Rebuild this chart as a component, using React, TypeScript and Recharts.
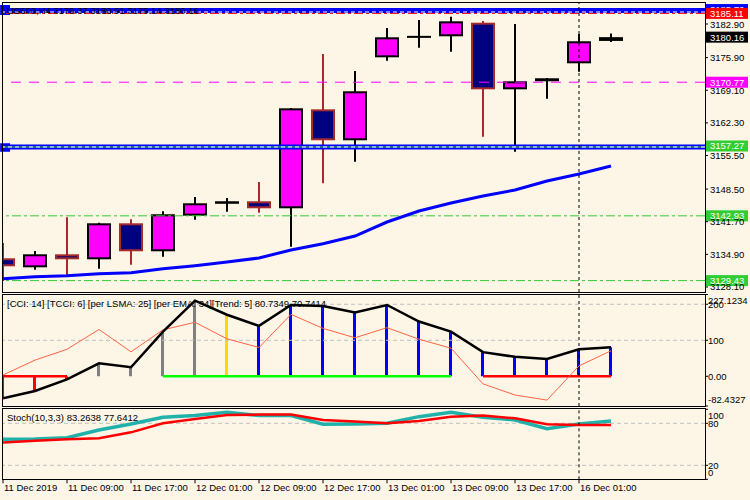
import React from "react";
import {
  ComposedChart,
  Bar,
  Line,
  XAxis,
  YAxis,
  ReferenceLine,
  ReferenceArea,
  Cell
} from "recharts";

// US500 H4 candles
const times = [
  "11 Dec 2019", "11 Dec 05:00", "11 Dec 09:00", "11 Dec 13:00", "11 Dec 17:00",
  "11 Dec 21:00", "12 Dec 01:00", "12 Dec 05:00", "12 Dec 09:00", "12 Dec 13:00",
  "12 Dec 17:00", "12 Dec 21:00", "13 Dec 01:00", "13 Dec 05:00", "13 Dec 09:00",
  "13 Dec 13:00", "13 Dec 17:00", "13 Dec 21:00", "16 Dec 01:00", "16 Dec 05:00"
];
const open = [
  3134.08, 3132.2, 3134.91, 3133.87, 3141.37, 3135.54, 3142.96, 3145.54, 3145.96, 3144.5,
  3165.12, 3158.67, 3175.96, 3180.22, 3180.34, 3183.17, 3169.29, 3170.96, 3174.71, 3179.37
];
const high = [
  3137.26, 3135.6, 3142.62, 3141.5, 3142.2, 3143.87, 3146.85, 3146.64, 3149.98, 3165.4,
  3176.65, 3173.11, 3182.07, 3183.73, 3184.42, 3183.53, 3182.9, 3171.65, 3180.82, 3180.91
];
const low = [
  3129.35, 3131.7, 3130.39, 3131.91, 3132.74, 3134.41, 3142.12, 3143.79, 3143.58, 3136.5,
  3149.7, 3154.21, 3175.25, 3177.96, 3177.13, 3159.42, 3156.29, 3167.33, 3172.96, 3179.14
];
const close = [
  3132.41, 3134.91, 3133.87, 3141.37, 3135.54, 3143.25, 3145.54, 3145.96, 3144.5, 3165.33,
  3158.67, 3168.88, 3180.13, 3180.22, 3183.46, 3169.29, 3170.96, 3171.59, 3179.3, 3180.16
];
const ma = [
  3129.83, 3130.24, 3130.45, 3130.87, 3131.08, 3131.91, 3132.54, 3133.31, 3134.14, 3135.81,
  3137.12, 3138.72, 3141.64, 3143.93, 3145.6, 3147.06, 3148.31, 3150.18, 3151.64, 3153.31
];

// CCI panel
const cci = [-61, -40.8, -8.4, 36, 25, 124, 210, 171, 140, 198, 195, 177, 198, 152, 124, 67, 54, 48, 75, 80.7349];
const tcci = [3.6, 45, 75, 130, 68, 129, 150, 104, 80, 172, 133, 107, 135, 103, 78, -21, -52, -66, 29, 70.7414];
const cciState = ["dn", "dn", "dn", "nt", "nt", "nt", "nt", "tr", "up", "up", "up", "up", "up", "up", "up", "up", "up", "up", "up", "up"];
const trend = ["dn", "dn", "dn", "", "", "up", "up", "up", "up", "up", "up", "up", "up", "up", "up", "dn", "dn", "dn", "dn", "dn"];

// Stochastic panel
const stochMain = [57.1, 57.5, 59.5, 70.5, 79, 88.6, 91, 95.7, 91, 91, 78.6, 79, 80, 89.5, 95.7, 88.6, 84.8, 72.4, 79, 83.2638];
const stochSignal = [52.4, 55.2, 57.1, 58.6, 67.1, 80, 86.2, 91.9, 92.4, 92.4, 84.8, 82.4, 80, 83.3, 89.5, 91, 87.1, 78.6, 77.6, 77.6412];

const priceTicks = [3128.1, 3134.9, 3141.7, 3148.5, 3155.5, 3162.3, 3169.1, 3175.9, 3182.9];
const cciTicks = [-82.4327, 0, 100, 200, 227.1234];
const stochTicks = [0, 20, 80, 100];
const timeTicks = [0, 2, 4, 6, 8, 10, 12, 14, 16, 18];

const bid = 3180.16;
const stateColor: Record<string, string> = { dn: "#ff0000", nt: "#808080", tr: "#ffd700", up: "#0000ff" };

const FONT = "'Liberation Sans', Arial, sans-serif";
const BG = "#fdf5e6";
const X_MAX = 702 / 32;

const rows = times.map((t, i) => ({
  i,
  t,
  range: [low[i], high[i]],
  o: open[i],
  h: high[i],
  l: low[i],
  c: close[i],
  ma: ma[i],
  cci: cci[i],
  tcci: tcci[i],
  dnBase: trend[i] === "dn" ? 0 : null,
  upBase: trend[i] === "up" ? 0 : null,
  k: stochMain[i],
  d: stochSignal[i]
}));

const Candle = (props: any) => {
  const { x, y, width, height, payload } = props;
  const top = Math.min(y, y + height);
  const bot = Math.max(y, y + height);
  const { o, h, l, c } = payload;
  const k = (bot - top) / (h - l || 1);
  const py = (v: number) => top + (h - v) * k;
  const cx = Math.round(x + width / 2);
  const bull = c > o;
  const doji = Math.abs(c - o) < 0.05;
  const edge = bull || doji ? "#000" : "#a52a2a";
  const yo = py(o);
  const yc = py(c);
  const bTop = Math.min(yo, yc) + 1;
  const bH = Math.max(Math.abs(yc - yo) - 2, 0.5);
  return (
    <g>
      <line x1={cx} x2={cx} y1={top} y2={bot} stroke={edge} strokeWidth={2} />
      {doji ? (
        <line x1={cx - 12} x2={cx + 12} y1={yc} y2={yc} stroke="#000" strokeWidth={2} />
      ) : (
        <rect x={cx - 11} y={bTop} width={22} height={bH} fill={bull ? "#ff00ff" : "#000080"} stroke={edge} strokeWidth={2} />
      )}
    </g>
  );
};

const PriceTag = (props: any) => {
  const { viewBox, bg, text, shift = 0 } = props;
  if (!viewBox) return null;
  const x = viewBox.x + viewBox.width + 1;
  const y = viewBox.y + shift;
  return (
    <g>
      <rect x={x} y={y - 5.5} width={42} height={11} fill={bg} />
      <text x={x + 4} y={y + 3.5} fill="#fff" fontSize={9.5} fontFamily={FONT}>
        {text}
      </text>
    </g>
  );
};

const PriceTick = ({ x, y, payload }: any) => (
  <text x={x} y={y} dy={3.5} textAnchor="start" fontSize={9.5} fontFamily={FONT} fill="#000">
    {payload.value.toFixed(2)}
  </text>
);

const CciTick = ({ x, y, payload }: any) => {
  const v = payload.value;
  let dy = 3.5;
  if (v === cciTicks[cciTicks.length - 1]) dy += 6;
  if (v === cciTicks[0]) dy -= 7;
  return (
    <text x={x} y={y} dy={dy} textAnchor="start" fontSize={9.5} fontFamily={FONT} fill="#000">
      {v === 0 ? "0.00" : String(v)}
    </text>
  );
};

const StochTick = ({ x, y, payload }: any) => {
  const v = payload.value;
  let dy = 3.5;
  if (v === 100) dy += 6;
  if (v === 0) dy -= 7;
  return (
    <text x={x} y={y} dy={dy} textAnchor="start" fontSize={9.5} fontFamily={FONT} fill="#000">
      {v}
    </text>
  );
};

const TimeTick = ({ x, y, payload }: any) => (
  <text x={x + 1} y={y} dy={6} textAnchor="start" fontSize={9.5} fontFamily={FONT} fill="#000">
    {times[payload.value]}
  </text>
);

const panelBox = (top: number, height: number): React.CSSProperties => ({
  position: "absolute",
  left: 2,
  top,
  width: 704,
  height,
  border: "1px solid #000",
  boxSizing: "border-box",
  pointerEvents: "none"
});

const labelStyle = (top: number): React.CSSProperties => ({
  position: "absolute",
  left: 7,
  top,
  fontFamily: FONT,
  fontSize: 9.5,
  lineHeight: "11px",
  color: "#000",
  whiteSpace: "nowrap"
});

export default function App() {
  return (
    <div style={{ position: "absolute", left: 0, top: 0, width: 750, height: 500, background: BG, overflow: "hidden" }}>
      {/* price panel */}
      <div style={{ position: "absolute", left: 0, top: 0 }}>
        <ComposedChart width={750} height={293} data={rows} margin={{ top: 3, right: 0, left: 3, bottom: 1 }}>
          <XAxis dataKey="i" type="number" domain={[0, X_MAX]} allowDataOverflow hide />
          <YAxis
            orientation="right"
            width={45}
            domain={[3127.055, 3187.276]}
            allowDataOverflow
            ticks={priceTicks}
            interval={0}
            tick={<PriceTick />}
            tickSize={3}
            tickMargin={2}
            tickLine={{ stroke: "#000" }}
            axisLine={false}
          />
          <ReferenceLine y={3185.7} stroke="#0000ff" strokeWidth={5} label={<PriceTag bg="#0000ff" text="3185.70" shift={-1} />} />
          <ReferenceLine y={3185.4} stroke="#ffffff" strokeDasharray="4 3" />
          <ReferenceLine y={3185.11} stroke="#ff0000" strokeDasharray="9 3 3 3" label={<PriceTag bg="#ff0000" text="3185.11" />} />
          <ReferenceLine y={3170.77} stroke="#ff00ff" strokeDasharray="10 8" label={<PriceTag bg="#ff00ff" text="3170.77" />} />
          <ReferenceLine y={3157.27} stroke="#0000ff" strokeWidth={5} />
          <ReferenceLine y={3157.27} stroke="#32cd32" label={<PriceTag bg="#32cd32" text="3157.27" shift={-1} />} />
          <ReferenceLine y={3157.27} stroke="#ffffff" strokeDasharray="4 3" />
          <ReferenceLine y={3142.93} stroke="#32cd32" strokeDasharray="9 3 3 3" label={<PriceTag bg="#32cd32" text="3142.93" />} />
          <ReferenceLine y={3129.43} stroke="#32cd32" strokeDasharray="9 3 3 3" label={<PriceTag bg="#32cd32" text="3129.43" />} />
          <ReferenceArea x1={-0.09} x2={0.22} y1={3184.77} y2={3186.86} fill="#0000ff" fillOpacity={1} stroke="none" ifOverflow="visible" />
          <ReferenceArea x1={-0.09} x2={0.22} y1={3156.3} y2={3158.05} fill="#0000ff" fillOpacity={1} stroke="none" ifOverflow="visible" />
          <Line dataKey="ma" stroke="#0000ff" strokeWidth={3} dot={false} isAnimationActive={false} />
          <Bar dataKey="range" barSize={24} shape={<Candle />} isAnimationActive={false} />
          <ReferenceLine x={18} stroke="#000" strokeDasharray="3 3" />
          <ReferenceLine y={bid} strokeOpacity={0} label={<PriceTag bg="#000000" text="3180.16" />} />
        </ComposedChart>
      </div>

      {/* CCI panel */}
      <div style={{ position: "absolute", left: 0, top: 290 }}>
        <ComposedChart width={750} height={120} data={rows} margin={{ top: 4.5, right: 0, left: 3, bottom: 4 }}>
          <XAxis dataKey="i" type="number" domain={[0, X_MAX]} allowDataOverflow hide />
          <YAxis
            orientation="right"
            width={45}
            domain={[cciTicks[0], cciTicks[cciTicks.length - 1]]}
            allowDataOverflow
            ticks={cciTicks}
            interval={0}
            tick={<CciTick />}
            tickSize={3}
            tickMargin={0}
            tickLine={{ stroke: "#000" }}
            axisLine={false}
          />
          <ReferenceLine y={200} stroke="#c0c0c0" strokeDasharray="4 3" />
          <ReferenceLine y={100} stroke="#c0c0c0" strokeDasharray="4 3" />
          <Bar dataKey="cci" barSize={3} isAnimationActive={false}>
            {rows.map((r) => (
              <Cell key={r.i} fill={stateColor[cciState[r.i]]} />
            ))}
          </Bar>
          <Line dataKey="dnBase" stroke="#ff0000" strokeWidth={2.5} dot={false} isAnimationActive={false} />
          <Line dataKey="upBase" stroke="#00ff00" strokeWidth={2.5} dot={false} isAnimationActive={false} />
          <Line dataKey="tcci" stroke="#ff6347" strokeWidth={1} dot={false} isAnimationActive={false} />
          <Line dataKey="cci" stroke="#000" strokeWidth={2.5} dot={false} isAnimationActive={false} />
          <ReferenceLine x={18} stroke="#000" strokeDasharray="3 3" />
        </ComposedChart>
      </div>

      {/* Stochastic panel */}
      <div style={{ position: "absolute", left: 0, top: 405 }}>
        <ComposedChart width={750} height={95} data={rows} margin={{ top: 4.3, right: 0, left: 3, bottom: 0.7 }}>
          <XAxis
            dataKey="i"
            type="number"
            domain={[0, X_MAX]}
            allowDataOverflow
            ticks={timeTicks}
            interval={0}
            tick={<TimeTick />}
            tickSize={4}
            tickMargin={2}
            tickLine={{ stroke: "#000" }}
            axisLine={false}
            height={20}
          />
          <YAxis
            orientation="right"
            width={45}
            domain={[0, 100]}
            allowDataOverflow
            ticks={stochTicks}
            interval={0}
            tick={<StochTick />}
            tickSize={3}
            tickMargin={0}
            tickLine={{ stroke: "#000" }}
            axisLine={false}
          />
          <ReferenceLine y={80} stroke="#c0c0c0" strokeDasharray="4 3" />
          <ReferenceLine y={20} stroke="#c0c0c0" strokeDasharray="4 3" />
          <Line dataKey="k" stroke="#20b2aa" strokeWidth={3.5} dot={false} isAnimationActive={false} />
          <Line dataKey="d" stroke="#ff0000" strokeWidth={2.5} dot={false} isAnimationActive={false} />
          <ReferenceLine x={18} stroke="#000" strokeDasharray="3 3" />
        </ComposedChart>
      </div>

      <div style={panelBox(2, 291)} />
      <div style={panelBox(294, 113)} />
      <div style={panelBox(408, 72)} />

      <div style={labelStyle(5)}>US500,H4 3179.37 3180.91 3179.14 3180.16</div>
      <div style={labelStyle(298)}>[CCI: 14] [TCCI: 6] [per LSMA: 25] [per EMA: 34][Trend: 5] 80.7349 70.7414</div>
      <div style={labelStyle(411.5)}>Stoch(10,3,3) 83.2638 77.6412</div>
    </div>
  );
}
